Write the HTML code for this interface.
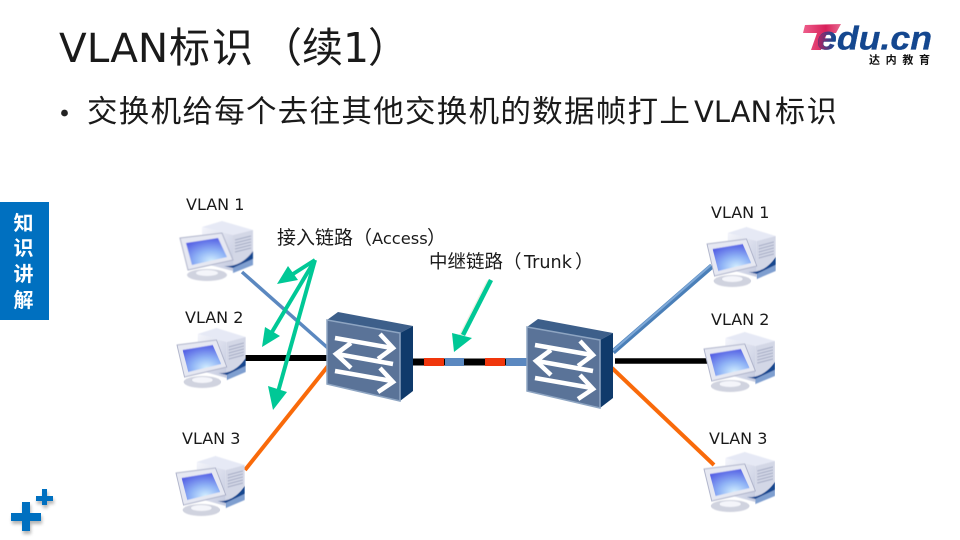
<!DOCTYPE html>
<html><head><meta charset="utf-8">
<style>
html,body{margin:0;padding:0;background:#fff}
body{width:960px;height:540px;overflow:hidden}
svg{display:block}
text{font-family:"Noto Sans CJK SC","Liberation Sans",sans-serif}
.d{font-family:"DejaVu Sans","Noto Sans CJK SC",sans-serif}
</style></head><body>
<svg width="960" height="540" viewBox="0 0 960 540" xmlns="http://www.w3.org/2000/svg">
<defs>
<radialGradient id="scr" cx="0.62" cy="0.85" r="0.85"><stop offset="0" stop-color="#d2eeff"/><stop offset="0.45" stop-color="#90b4f6"/><stop offset="1" stop-color="#5560e4"/></radialGradient>
<linearGradient id="twr" x1="0" y1="0" x2="1" y2="1"><stop offset="0" stop-color="#f4f5fb"/><stop offset="1" stop-color="#c3c9de"/></linearGradient>
<linearGradient id="tk" x1="0" y1="0" x2="1" y2="0"><stop offset="0" stop-color="#ee5f8c"/><stop offset="0.6" stop-color="#d8205a"/><stop offset="1" stop-color="#e86a90"/></linearGradient>
<linearGradient id="ed" gradientUnits="userSpaceOnUse" x1="818" y1="0" x2="834" y2="0"><stop offset="0" stop-color="#b82060"/><stop offset="1" stop-color="#14478f"/></linearGradient>
<filter id="b" x="-10%" y="-10%" width="120%" height="120%"><feGaussianBlur stdDeviation="0.4"/></filter>
<filter id="s" x="-30%" y="-30%" width="160%" height="160%"><feGaussianBlur stdDeviation="1.5"/></filter>
<g id="pc" filter="url(#b)">
<polygon points="22,6 42,0 73,9 53,14" fill="#e6e9f5"/>
<polygon points="22,6 53,14 53,50 22,42" fill="url(#twr)"/>
<polygon points="53,14 73,9 73,44 53,52" fill="#d3d7e6"/>
<g stroke="#a4abc4" stroke-width="1"><line x1="55" y1="19" x2="71" y2="15"/><line x1="55" y1="22" x2="71" y2="18"/><line x1="55" y1="25" x2="71" y2="21"/><line x1="55" y1="28" x2="71" y2="24"/><line x1="55" y1="31" x2="71" y2="27"/></g>
<path d="M44,45 C56,46 66,40 73,30 L73,38 L53,47 Z" fill="#14478f"/>
<polygon points="53,47 73,38 73,44 53,52" fill="#7f9fd0"/>
<ellipse cx="27" cy="54" rx="20" ry="6" fill="#d0d3df"/>
<ellipse cx="27" cy="52" rx="11" ry="3" fill="#f4f5fa"/>
<polygon points="0,17 42,12 53,39 8,49" fill="#e6e8f2" stroke="#aeb3ca" stroke-width="1"/>
<polygon points="6,22 38,17 47,36 12,44" fill="url(#scr)"/>
</g>
<g id="sw">
<polygon points="0,8 11,0 86,14 73,21" fill="#3d5f8a"/>
<polygon points="73,21 86,14 86,79 73,89" fill="#0f3a6b"/>
<polygon points="0,8 73,21 73,89 0,72" fill="#5a7398" stroke="#8ea5c2" stroke-width="1.5"/>
<g stroke="#fff" stroke-width="4.5" fill="none">
<path d="M8,26 L65,36"/><path d="M53,22 L66,36 L51,47"/>
<path d="M66,52 L10,42"/><path d="M24,31 L9,42 L24,56"/>
<path d="M8,59 L65,69"/><path d="M53,56 L66,70 L51,80"/>
</g>
</g>
</defs>

<text y="62" fill="#1a1a1a"><tspan class="d" x="59" font-size="40.5">VLAN</tspan><tspan x="169" font-size="41" letter-spacing="2">标识</tspan><tspan x="261" font-size="41">（</tspan><tspan x="302" font-size="41">续</tspan><tspan class="d" x="343" font-size="41">1</tspan><tspan x="368" font-size="41">）</tspan></text>
<circle cx="64.5" cy="113" r="3.4" fill="#222"/>
<text y="122" fill="#1a1a1a"><tspan x="87" font-size="30.5" letter-spacing="1.3">交换机给每个去往其他交换机的数据帧打上</tspan><tspan class="d" x="694" font-size="29">VLAN</tspan><tspan x="775" font-size="30" letter-spacing="1.8">标识</tspan></text>

<!-- logo -->
<polygon points="805,25 841,24 836,33 827,33 821,50 811,50 817,33 803,33" fill="url(#tk)"/>
<text x="817" y="49.5" font-size="33" font-weight="700" font-style="italic" fill="url(#ed)" stroke="#14478f" stroke-width="0.3" style='font-family:"Liberation Sans",sans-serif' textLength="115" lengthAdjust="spacingAndGlyphs">edu.cn</text>
<text x="869" y="63.5" font-size="11" font-weight="700" fill="#111" textLength="61" lengthAdjust="spacing">达内教育</text>

<!-- side tab -->
<rect x="0" y="202" width="49" height="118" fill="#0070c0"/>
<g font-size="20" font-weight="700" fill="#fff" text-anchor="middle">
<text x="23.5" y="230">知</text><text x="23.5" y="255">识</text><text x="23.5" y="281">讲</text><text x="23.5" y="307">解</text>
</g>

<!-- plus -->
<g fill="#777" opacity="0.55" filter="url(#s)"><rect x="23" y="505" width="8" height="29"/><rect x="12" y="516" width="30" height="8"/><rect x="43" y="492" width="5" height="16"/><rect x="37" y="499" width="17" height="5"/></g>
<g fill="#0070c0"><rect x="22" y="502" width="8" height="29"/><rect x="11" y="513" width="30" height="8"/><rect x="42" y="489" width="5" height="16"/><rect x="36" y="496" width="17" height="5"/></g>

<!-- links left -->
<line x1="242" y1="272" x2="329" y2="349" stroke="#5b88c0" stroke-width="3.5"/>
<line x1="245" y1="358" x2="328" y2="358" stroke="#000" stroke-width="6"/>
<line x1="245" y1="470" x2="328" y2="366" stroke="#f96a0a" stroke-width="4"/>
<!-- links right -->
<line x1="613" y1="352" x2="712" y2="266" stroke="#4a7fb8" stroke-width="5.5"/>
<line x1="613" y1="350.5" x2="711" y2="265" stroke="#7fa9d8" stroke-width="2"/>
<line x1="615" y1="361" x2="707" y2="361" stroke="#000" stroke-width="5.5"/>
<line x1="612" y1="368" x2="714" y2="465" stroke="#f96a0a" stroke-width="4"/>
<!-- trunk -->
<rect x="412" y="358.5" width="115" height="7" fill="#000"/>
<rect x="424" y="358" width="20" height="8" fill="#f0360c"/>
<rect x="445" y="358" width="19" height="8" fill="#5b88c0"/>
<rect x="485" y="358" width="20" height="8" fill="#f0360c"/>
<rect x="506" y="358" width="21" height="8" fill="#5b88c0"/>

<use href="#pc" transform="translate(180,221)"/>
<use href="#pc" transform="translate(177,328) scale(.94,1)"/>
<use href="#pc" transform="translate(176,456) scale(.94,1)"/>
<use href="#pc" transform="translate(707,227) scale(.94,1)"/>
<use href="#pc" transform="translate(704,332) scale(.97,1)"/>
<use href="#pc" transform="translate(704,452) scale(.97,1)"/>
<use href="#sw" x="327" y="312"/>
<use href="#sw" x="527" y="319"/>

<!-- green arrows -->
<g stroke="#efeee2" stroke-width="4.5" fill="none" transform="translate(-2,1)">
<line x1="491" y1="280" x2="463" y2="335"/>
</g>
<g stroke="#00c896" stroke-width="4" fill="none">
<line x1="315" y1="260" x2="293" y2="274"/>
<line x1="315" y1="260" x2="272" y2="332"/>
<line x1="315" y1="260" x2="278" y2="392"/>
</g>
<line x1="491" y1="280" x2="463" y2="335" stroke="#00c896" stroke-width="4.5"/>
<g fill="#00c896">
<polygon points="277,284 288,266 298,280"/>
<polygon points="262,347 265,327 280,336"/>
<polygon points="273,410 268,386 287,392"/>
<polygon points="454,352 452,333 472,338"/>
</g>

<g class="d" font-size="16" fill="#1a1a1a">
<text class="d" x="186" y="210">VLAN 1</text>
<text class="d" x="185" y="323">VLAN 2</text>
<text class="d" x="182" y="444">VLAN 3</text>
<text class="d" x="711" y="218">VLAN 1</text>
<text class="d" x="711" y="325">VLAN 2</text>
<text class="d" x="709" y="444">VLAN 3</text>
</g>
<text y="244" fill="#1a1a1a"><tspan x="277" font-size="19">接入链路（</tspan><tspan class="d" x="372" font-size="16.3">Access</tspan><tspan x="427" font-size="19">）</tspan></text>
<text y="268" fill="#1a1a1a"><tspan x="429" font-size="18.5">中继链路（</tspan><tspan class="d" x="524" font-size="17.6">Trunk</tspan><tspan x="575" font-size="18.5">）</tspan></text>
</svg>
</body></html>
